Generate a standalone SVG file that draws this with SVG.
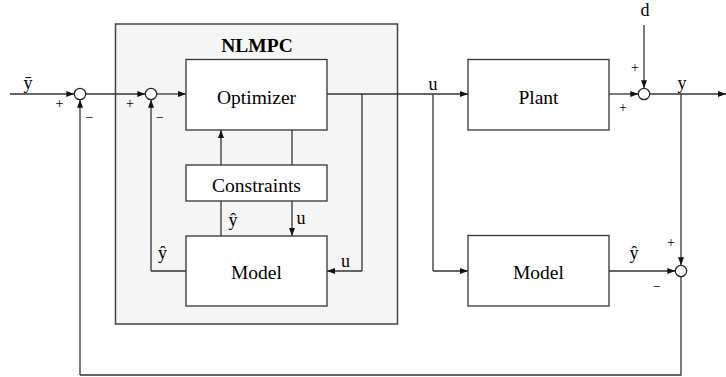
<svg xmlns="http://www.w3.org/2000/svg" width="726" height="377" viewBox="0 0 726 377" font-family="'Liberation Serif', 'DejaVu Serif', serif">
<defs>
<marker id="ah" markerUnits="userSpaceOnUse" markerWidth="9" markerHeight="7" refX="8" refY="3" orient="auto">
<path d="M0,0 L8,3 L0,6 z" fill="#111"/>
</marker>
</defs>
<style>
.box{fill:#fff;stroke:#333;stroke-width:1.3}
.outer{fill:#f5f5f5;stroke:#444;stroke-width:1.5}
.sum{fill:#fff;stroke:#222;stroke-width:1.2}
.ln{fill:none;stroke:#333;stroke-width:1.3}
.arr{fill:none;stroke:#333;stroke-width:1.3;marker-end:url(#ah)}
text{font-family:'Liberation Serif','DejaVu Serif',serif;fill:#000;text-anchor:middle}
.t{font-size:19.5px}
.b{font-size:19.5px;font-weight:bold}
.l{font-size:18px}
.s{font-size:14px}
</style>
<rect width="726" height="377" fill="#fff"/>
<g id="nlmpc">
<rect class="outer" x="115.5" y="24" width="282" height="300"/>
<text class="b" x="257" y="52">NLMPC</text>
</g>
<g id="connectors">
<path class="arr" d="M10,94 H74.3"/>
<path class="arr" d="M85.7,94 H145.3"/>
<path class="arr" d="M156.7,94 H186"/>
<path class="arr" d="M327,94 H468"/>
<path class="ln" d="M362,94 V271"/>
<path class="arr" d="M362,271 H327"/>
<path class="ln" d="M186,271 H151"/>
<path class="arr" d="M151,271 V99.7"/>
<path class="arr" d="M221,165 V130"/>
<path class="ln" d="M292,130 V165"/>
<path class="ln" d="M221,236 V201"/>
<path class="arr" d="M292,201 V236"/>
<path class="ln" d="M433,94 V271"/>
<path class="arr" d="M433,271 H468"/>
<path class="arr" d="M609,94 H638.3"/>
<path class="arr" d="M644,25 V88.3"/>
<path class="arr" d="M649.7,94 H726"/>
<path class="arr" d="M681,94 V265.3"/>
<path class="arr" d="M609,271 H675.3"/>
<path class="ln" d="M681,276.7 V375 H80"/>
<path class="arr" d="M80,375 V99.7"/>
</g>
<g id="sum1"><circle class="sum" cx="80" cy="94" r="5.7"/><text class="s" x="59.5" y="108">+</text><text class="s" x="89.5" y="121.5">−</text></g>
<g id="sum2"><circle class="sum" cx="151" cy="94" r="5.7"/><text class="s" x="130" y="108">+</text><text class="s" x="160" y="121.5">−</text></g>
<g id="sum3"><circle class="sum" cx="644" cy="94" r="5.7"/><text class="s" x="635" y="71.5">+</text><text class="s" x="623" y="111.5">+</text></g>
<g id="sum4"><circle class="sum" cx="681" cy="271" r="5.7"/><text class="s" x="671" y="247">+</text><text class="s" x="657" y="290.5">−</text></g>
<g id="optimizer"><rect class="box" x="186" y="59.5" width="141" height="70.5"/><text class="t" x="256.5" y="103.5">Optimizer</text></g>
<g id="constraints"><rect class="box" x="186" y="165" width="141" height="36"/><text class="t" x="256.5" y="192">Constraints</text></g>
<g id="model-inner"><rect class="box" x="186" y="236" width="141" height="70"/><text class="t" x="256.5" y="279">Model</text></g>
<g id="plant"><rect class="box" x="468" y="59.5" width="141" height="70.5"/><text class="t" x="538.5" y="104">Plant</text></g>
<g id="model-outer"><rect class="box" x="468" y="235.5" width="141" height="70.5"/><text class="t" x="538.5" y="279">Model</text></g>
<g id="labels">
<text class="l" x="28" y="89">ȳ</text>
<text class="l" x="433" y="89.5">u</text>
<text class="l" x="645" y="16">d</text>
<text class="l" x="682" y="88.5">y</text>
<text class="l" x="233" y="226">ŷ</text>
<text class="l" x="301" y="224">u</text>
<text class="l" x="162.5" y="258.5">ŷ</text>
<text class="l" x="345.5" y="266.5">u</text>
<text class="l" x="634" y="259">ŷ</text>
</g>
</svg>
